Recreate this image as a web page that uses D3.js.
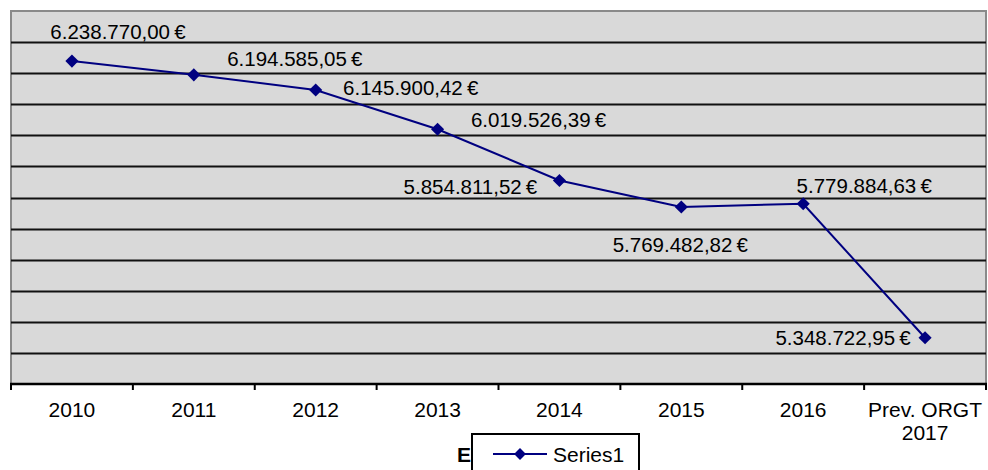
<!DOCTYPE html>
<html>
<head>
<meta charset="utf-8">
<script src="https://cdn.jsdelivr.net/npm/d3@7"></script>
<style>
  html, body { margin: 0; padding: 0; background: #fff; }
  #chart-area { width: 988px; height: 470px; overflow: hidden; }
  text { font-family: "Liberation Sans", Arial, sans-serif; fill: #000; }
</style>
</head>
<body>
<div id="chart-area"></div>
<script>
// Data
const categories = ["2010", "2011", "2012", "2013", "2014", "2015", "2016", "Prev. ORGT\n2017"];
const values = [6238770.00, 6194585.05, 6145900.42, 6019526.39, 5854811.52, 5769482.82, 5779884.63, 5348722.95];
const seriesName = "Series1";
const yMin = 5200000, yMax = 6400000, yStep = 100000;

// where each data label sits relative to its point (dx, dy of label centre)
const labelOffsets = [[46, -30], [101, -16], [95, -2], [101, -10], [-89, 6], [-1, 38], [61, -18], [-82, 0]];

const width = 988, height = 470;
const margin = { top: 11, right: 2, bottom: 86, left: 11 };
const plotW = width - margin.left - margin.right;
const plotH = height - margin.top - margin.bottom;

const euro = d3.formatLocale({ decimal: ",", thousands: ".", grouping: [3], currency: ["", "\u2009€"] }).format("$,.2f");

const svg = d3.select("#chart-area").append("svg")
    .attr("width", width)
    .attr("height", height);

const g = svg.append("g").attr("transform", `translate(${margin.left},${margin.top})`);

const x = d3.scaleBand().domain(categories).range([0, plotW]);
const y = d3.scaleLinear().domain([yMin, yMax]).range([plotH, 0]);

// plot background
g.append("rect")
    .attr("width", plotW)
    .attr("height", plotH)
    .attr("fill", "#d9d9d9")
    .attr("stroke", "#8a8a8a")
    .attr("stroke-width", 2);

// gridlines
const gridVals = d3.range(yMin + yStep, yMax, yStep);
g.selectAll(".grid")
    .data(gridVals)
    .enter()
    .append("line")
    .attr("x1", 0).attr("x2", plotW)
    .attr("y1", d => Math.round(y(d)) + 0.5)
    .attr("y2", d => Math.round(y(d)) + 0.5)
    .attr("stroke", "#111")
    .attr("stroke-width", 2);

// x axis line + ticks at band boundaries
g.append("line")
    .attr("x1", -1).attr("x2", plotW + 1)
    .attr("y1", plotH).attr("y2", plotH)
    .attr("stroke", "#000").attr("stroke-width", 2.5);

const bounds = categories.map(c => x(c)).concat([x.range()[1]]);
g.selectAll(".tick-mark")
    .data(bounds)
    .enter()
    .append("line")
    .attr("x1", d => d).attr("x2", d => d)
    .attr("y1", plotH).attr("y2", plotH + 6)
    .attr("stroke", "#000").attr("stroke-width", 2);

// x labels
const xl = g.selectAll(".xlab")
    .data(categories)
    .enter()
    .append("text")
    .attr("text-anchor", "middle")
    .attr("font-size", 21)
    .attr("x", d => x(d) + x.bandwidth() / 2)
    .attr("y", plotH + 33);
xl.each(function (d) {
    const parts = d.split("\n");
    d3.select(this).selectAll("tspan")
        .data(parts)
        .enter()
        .append("tspan")
        .attr("x", x(d) + x.bandwidth() / 2)
        .attr("dy", (p, i) => i === 0 ? 0 : 23)
        .text(p => p);
});

// line
const pts = values.map((v, i) => ({ cat: categories[i], v: v, off: labelOffsets[i] }));
const line = d3.line()
    .x(d => x(d.cat) + x.bandwidth() / 2)
    .y(d => y(d.v));

g.append("path")
    .datum(pts)
    .attr("d", line)
    .attr("fill", "none")
    .attr("stroke", "#000080")
    .attr("stroke-width", 2);

const diamond = d3.symbol().type(d3.symbolDiamond2).size(110);
g.selectAll(".pt")
    .data(pts)
    .enter()
    .append("path")
    .attr("d", diamond)
    .attr("transform", d => `translate(${x(d.cat) + x.bandwidth() / 2},${y(d.v)})`)
    .attr("fill", "#000080");

// data labels
g.selectAll(".dlab")
    .data(pts)
    .enter()
    .append("text")
    .attr("text-anchor", "middle")
    .attr("dominant-baseline", "central")
    .attr("font-size", 20.5)
    .attr("x", d => x(d.cat) + x.bandwidth() / 2 + d.off[0])
    .attr("y", d => y(d.v) + d.off[1])
    .text(d => euro(d.v));

// partially hidden axis title
svg.append("text")
    .attr("x", 457)
    .attr("y", 454)
    .attr("dominant-baseline", "central")
    .attr("font-size", 21)
    .attr("font-weight", "bold")
    .text("E");

// legend
const lg = svg.append("g").attr("transform", "translate(472,434)");
lg.append("rect")
    .attr("x", 0).attr("y", 0)
    .attr("width", 167).attr("height", 50)
    .attr("fill", "#fff")
    .attr("stroke", "#000")
    .attr("stroke-width", 2);
lg.append("line")
    .attr("x1", 21).attr("x2", 75)
    .attr("y1", 20).attr("y2", 20)
    .attr("stroke", "#000080").attr("stroke-width", 2);
lg.append("path")
    .attr("d", d3.symbol().type(d3.symbolDiamond2).size(90))
    .attr("transform", "translate(48,20)")
    .attr("fill", "#000080");
lg.append("text")
    .attr("x", 81)
    .attr("y", 20)
    .attr("dominant-baseline", "central")
    .attr("font-size", 21)
    .text(seriesName);
</script>
</body>
</html>
